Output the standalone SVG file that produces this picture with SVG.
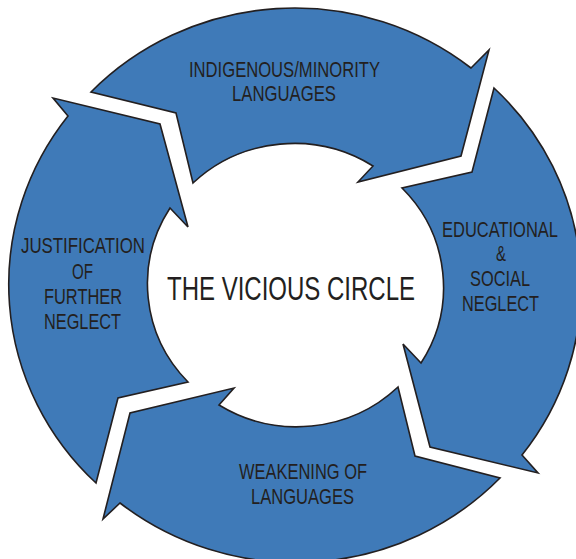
<svg xmlns="http://www.w3.org/2000/svg" width="576" height="559" viewBox="0 0 576 559">
<style>
.seg{fill:#3f7ab8;stroke:#231f20;stroke-width:1.6;stroke-linejoin:miter}
.lbl{font-family:"Liberation Sans",Arial,sans-serif;font-size:22px;fill:#231f20}
.ttl{font-family:"Liberation Sans",Arial,sans-serif;font-size:34px;fill:#231f20}
</style>
<rect width="576" height="559" fill="#ffffff"/>
<g id="connectors"></g>
<g id="node-indigenous">
<path class="seg" d="M91,92 A283,275 0 0 1 471,68 L489,50 L461,156 L358,182 L373,166 A146,142 0 0 0 193,183 L176,113 Z"/>
<text class="lbl" x="189" y="77" textLength="191" lengthAdjust="spacingAndGlyphs">INDIGENOUS/MINORITY</text>
<text class="lbl" x="232" y="101" textLength="104" lengthAdjust="spacingAndGlyphs">LANGUAGES</text>
</g>
<g id="node-educational">
<path class="seg" d="M494,88 A283,275 0 0 1 522,455 L538,473 L430,447 L403,344 L421,363 A146,142 0 0 0 402,188 L472,172 Z"/>
<text class="lbl" x="442" y="237" textLength="116" lengthAdjust="spacingAndGlyphs">EDUCATIONAL</text>
<text class="lbl" x="496" y="261" textLength="10" lengthAdjust="spacingAndGlyphs">&amp;</text>
<text class="lbl" x="470" y="286" textLength="60" lengthAdjust="spacingAndGlyphs">SOCIAL</text>
<text class="lbl" x="462" y="311" textLength="77" lengthAdjust="spacingAndGlyphs">NEGLECT</text>
</g>
<g id="node-weakening">
<path class="seg" d="M500,478 A283,275 0 0 1 120,503 L103,519 L130,413 L234,388 L219,405 A146,142 0 0 0 398,387 L415,456 Z"/>
<text class="lbl" x="239" y="479" textLength="128" lengthAdjust="spacingAndGlyphs">WEAKENING OF</text>
<text class="lbl" x="251" y="504" textLength="103" lengthAdjust="spacingAndGlyphs">LANGUAGES</text>
</g>
<g id="node-justification">
<path class="seg" d="M96,483 A283,275 0 0 1 68,116 L53,98 L160,124 L188,227 L170,208 A146,142 0 0 0 188,382 L118,398 Z"/>
<text class="lbl" x="21" y="253" textLength="124" lengthAdjust="spacingAndGlyphs">JUSTIFICATION</text>
<text class="lbl" x="72" y="279" textLength="21" lengthAdjust="spacingAndGlyphs">OF</text>
<text class="lbl" x="44" y="304" textLength="78" lengthAdjust="spacingAndGlyphs">FURTHER</text>
<text class="lbl" x="44" y="329" textLength="77" lengthAdjust="spacingAndGlyphs">NEGLECT</text>
</g>
<g id="node-center">
<text class="ttl" x="167" y="300" textLength="248" lengthAdjust="spacingAndGlyphs">THE VICIOUS CIRCLE</text>
</g>
</svg>
